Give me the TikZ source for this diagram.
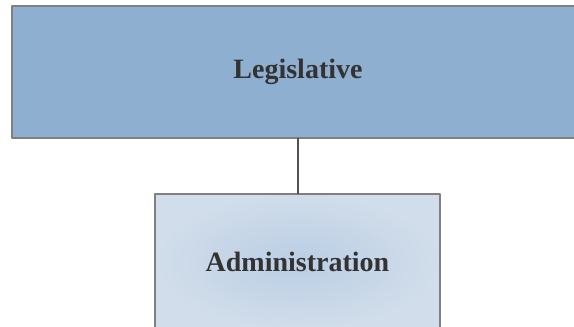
\documentclass[tikz,border=0pt]{standalone}
\usepackage{fontspec}
\setmainfont{Liberation Serif}
\usetikzlibrary{positioning}
\definecolor{legblue}{RGB}{143,175,208}
\definecolor{admouter}{RGB}{209,221,234}
\definecolor{adminner}{RGB}{186,206,228}
\definecolor{boxgray}{RGB}{128,128,128}
\definecolor{textgray}{RGB}{51,51,51}
\begin{document}
\begin{tikzpicture}[x=1pt,y=-1pt, line join=round,
		orgbox/.style={draw=boxgray, line width=2pt, outer sep=0pt, inner sep=0pt,
			text=textgray, font=\fontsize{28}{32}\selectfont\bfseries},
		legbox/.style={orgbox, fill=legblue, minimum width=572pt, minimum height=132pt},
		adminbox/.style={orgbox, inner color=adminner, outer color=admouter,
			minimum width=285pt, minimum height=136pt}]
			% --- Khung ---
			\useasboundingbox (0,0) rectangle (574,327);
			\clip (0,0) rectangle (574,327);
			% --- Hộp ---
			\node[legbox] (legis) at (298,72) {Legislative};
			\node[adminbox, below=55.5pt of legis.south, anchor=north, xshift=-0.5pt] (admin) {Administration};
			% --- Nối ---
			\draw[line width=2pt, draw=textgray!85] (legis.south -| 298,0) -- (admin.north -| 298,0);
	\end{tikzpicture}
\end{document}
